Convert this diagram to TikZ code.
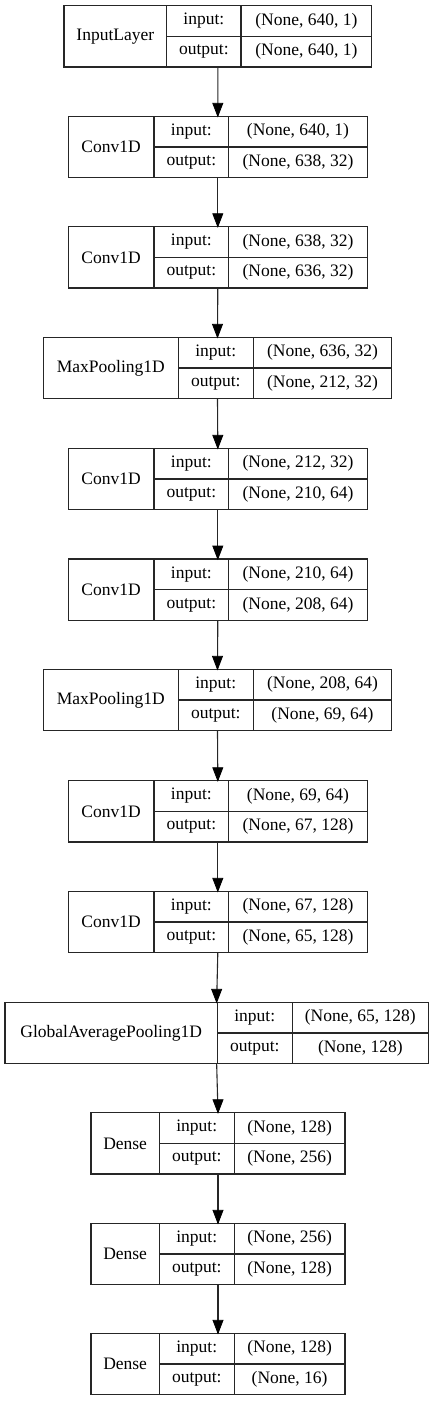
\documentclass[tikz,border=0pt]{standalone}
\usepackage{fontspec}
\setmainfont{Liberation Serif}
\usetikzlibrary{positioning,calc}

% one record: id, x, top, widths of the three columns, name, input shape, output shape
\newcommand{\layerbox}[9]{%
  \node[namecell, minimum width=#4pt] (#1) at (#2,-#3) {#7};
  \node[portcell, minimum width=#5pt] (#1-in) at (#1.north east) {input:};
  \node[portcell, minimum width=#5pt] (#1-out) at (#1-in.south west) {output:};
  \node[portcell, minimum width=#6pt] (#1-inv) at (#1-in.north east) {#8};
  \node[portcell, minimum width=#6pt] (#1-outv) at (#1-out.north east) {#9};
  \path (#1.north west) -- (#1-inv.north east) coordinate[pos=.5] (#1-n);
  \path (#1.south west) -- (#1-outv.south east) coordinate[pos=.5] (#1-s);
}
% connector with a graphviz-like filled head
\newcommand{\flow}[2]{%
  \draw[edge] (#1-s) -- (#2-n);
  \fill[head] (#2-n) -- ++(-5,13) -- ++(10,0) -- cycle;
}

\begin{document}
\begin{tikzpicture}[x=1pt,y=1pt,
    font=\fontsize{17.5}{21}\selectfont,
    namecell/.style={draw=black!85,line width=1.1pt,anchor=north west,inner sep=0pt,outer sep=0pt,minimum height=61.3pt},
    portcell/.style={draw=black!85,line width=1.1pt,anchor=north west,inner sep=0pt,outer sep=0pt,minimum height=30.65pt},
    edge/.style={draw=black!85,line width=1.1pt},
    head/.style={fill=black,draw=black,line width=0.8pt,line join=miter}]
  \useasboundingbox (0,0) rectangle (436,-1401);

  \layerbox{inp}{64}{5.7}{102.7}{74.3}{130.7}{InputLayer}{(None, 640, 1)}{(None, 640, 1)}
  \layerbox{c1}{68.3}{116.3}{85.7}{74.7}{138.6}{Conv1D}{(None, 640, 1)}{(None, 638, 32)}
  \layerbox{c2}{68.3}{226.7}{85.7}{74.7}{138.6}{Conv1D}{(None, 638, 32)}{(None, 636, 32)}
  \layerbox{mp1}{43.3}{337.3}{135}{75}{138.4}{MaxPooling1D}{(None, 636, 32)}{(None, 212, 32)}
  \layerbox{c3}{68.3}{448.3}{85.7}{74.7}{138.6}{Conv1D}{(None, 212, 32)}{(None, 210, 64)}
  \layerbox{c4}{68.3}{559}{85.7}{74.7}{138.6}{Conv1D}{(None, 210, 64)}{(None, 208, 64)}
  \layerbox{mp2}{43.3}{669.3}{135}{75}{138.4}{MaxPooling1D}{(None, 208, 64)}{(None, 69, 64)}
  \layerbox{c5}{68.3}{780.7}{85.7}{74.7}{138.6}{Conv1D}{(None, 69, 64)}{(None, 67, 128)}
  \layerbox{c6}{68.3}{891.3}{85.7}{74.7}{138.6}{Conv1D}{(None, 67, 128)}{(None, 65, 128)}
  \layerbox{gap}{5}{1002.3}{212.3}{75}{136}{GlobalAveragePooling1D}{(None, 65, 128)}{(None, 128)}
  \layerbox{d1}{91}{1112.7}{68.3}{75}{110.7}{Dense}{(None, 128)}{(None, 256)}
  \layerbox{d2}{91}{1223.3}{68.3}{75}{110.7}{Dense}{(None, 256)}{(None, 128)}
  \layerbox{d3}{91}{1333.3}{68.3}{75}{110.7}{Dense}{(None, 128)}{(None, 16)}

  \flow{inp}{c1}
  \flow{c1}{c2}
  \flow{c2}{mp1}
  \flow{mp1}{c3}
  \flow{c3}{c4}
  \flow{c4}{mp2}
  \flow{mp2}{c5}
  \flow{c5}{c6}
  \flow{c6}{gap}
  \flow{gap}{d1}
  \flow{d1}{d2}
  \flow{d2}{d3}
\end{tikzpicture}
\end{document}
